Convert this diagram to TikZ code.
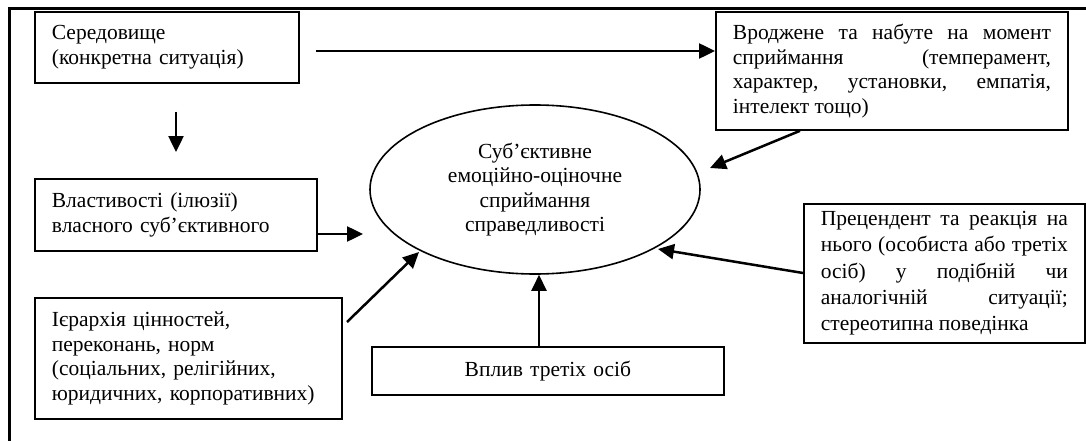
\documentclass[tikz,border=0pt]{standalone}
\usepackage{fontspec}
\setmainfont{Liberation Serif}
\usetikzlibrary{arrows.meta,shapes.geometric}
\begin{document}
\begin{tikzpicture}[x=1pt,y=-1pt,
  box/.style={draw, line width=1.8pt, rectangle, anchor=north west, inner xsep=17pt, inner ysep=0pt,
    font=\fontsize{21.5}{24.5}\selectfont},
  ell/.style={draw, line width=1.6pt, ellipse, inner sep=0pt, minimum width=330pt, minimum height=169pt,
    align=center, font=\fontsize{21.5}{24.5}\selectfont},
  arr/.style={line width=2.5pt, -{Triangle[length=16pt,width=15pt]}},
  frame/.style={line width=2.7pt}
]
\useasboundingbox (0,0) rectangle (1086,441);
% frame
\coordinate (fb) at (9.7,450);
\coordinate (fc) at (9.7,8.7);
\coordinate (fr) at (1100,8.7);
\draw[frame] (fb) -- (fc) -- (fr);

% boxes
\node[box, text width=230pt, align=left, minimum height=71pt] (env) at (34,11)
  {Середовище\\(конкретна ситуація)};
\node[box, text width=318pt, align=justify, minimum height=118pt] (innate) at (715,11)
  {Вроджене та набуте на момент\linebreak сприймання (темперамент,\linebreak характер, установки, емпатія,\linebreak інтелект тощо)};
\node[box, text width=248pt, align=left, minimum height=72pt] (prop) at (34,178)
  {Властивості (ілюзії)\\власного суб’єктивного};
\node[box, text width=273pt, align=left, minimum height=121pt] (hier) at (34,297)
  {Ієрархія цінностей,\\переконань, норм\\(соціальних, релігійних,\\юридичних, корпоративних)};
\node[box, text width=318pt, align=center, minimum height=48pt] (third) at (371,346)
  {Вплив третіх осіб};
\node[box, text width=247pt, align=justify, minimum height=139pt,
  font=\fontsize{21.5}{26.3}\selectfont] (prec) at (803,203)
  {Прецендент та реакція на\linebreak нього (особиста або третіх\linebreak осіб) у подібній чи\linebreak аналогічній ситуації;\linebreak стереотипна поведінка};

% ellipse
\node[ell] (center) at (535,189.5)
  {Суб’єктивне\\емоційно-оціночне\\сприймання\\справедливості};

% connectors
\coordinate (a1s) at (316,51);
\draw[arr] (a1s) -- (a1s -| innate.west);

\coordinate (a2s) at (176,112);
\coordinate (a2e) at (176,152);
\draw[arr] (a2s) -- (a2e);

\coordinate (a3e) at (363,234);
\draw[arr] (a3e -| prop.east) -- (a3e);

\coordinate (a4s) at (347,322);
\coordinate (a4e) at (419,252);
\draw[arr] (a4s) -- (a4e);

\coordinate (a5) at (539,300);
\draw[arr] (a5 |- third.north) -- (a5 |- center.south);

\coordinate (a6s) at (803,273);
\coordinate (a6e) at (658,249);
\draw[arr] (a6s -| prec.west) -- (a6e);

\coordinate (a7s) at (800,129);
\coordinate (a7e) at (710,168);
\draw[arr] (a7s |- innate.south) -- (a7e);
\end{tikzpicture}
\end{document}
